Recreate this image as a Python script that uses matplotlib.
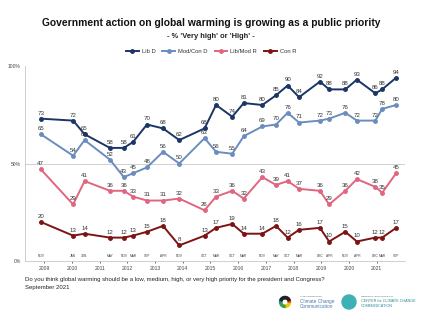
import matplotlib
matplotlib.use("Agg")
import matplotlib.pyplot as plt
import matplotlib.dates as mdates
from matplotlib.patches import Circle, Wedge
from datetime import date

plt.rcParams['font.family'] = ['Liberation Sans', 'DejaVu Sans']

survey_dates = ["2008-11", "2010-01", "2010-06", "2011-05", "2011-11", "2012-03", "2012-09",
                "2013-04", "2013-11", "2014-10", "2015-03", "2015-10", "2016-03", "2016-11",
                "2017-05", "2017-10", "2018-03", "2018-12", "2019-04", "2019-11", "2020-04",
                "2020-12", "2021-03", "2021-09"]
month_labels = ["NOV", "JAN", "JUN", "MAY", "NOV", "MAR", "SEP", "APR", "NOV", "OCT", "MAR", "OCT",
                "MAR", "NOV", "MAY", "OCT", "MAR", "DEC", "APR", "NOV", "APR", "DEC", "MAR", "SEP"]
lib_d = [73, 72, 65, 58, 58, 61, 70, 68, 62, 68, 80, 74, 81, 80, 85, 90, 84, 92, 88, 88, 93, 86, 88, 94]
modcon_d = [65, 54, 62, 52, 43, 45, 48, 56, 50, 63, 56, 55, 64, 69, 70, 76, 71, 72, 73, 76, 72, 72, 78, 80]
libmod_r = [47, 29, 41, 36, 36, 33, 31, 31, 32, 26, 33, 36, 32, 43, 39, 41, 37, 36, 29, 36, 42, 38, 35, 45]
con_r = [20, 13, 14, 12, 12, 13, 15, 18, 8, 13, 17, 19, 14, 14, 18, 12, 16, 17, 10, 15, 10, 12, 12, 17]
series_names = ["Lib D", "Mod/Con D", "Lib/Mod R", "Con R"]
series_colors = ["#1b3567", "#6b8dbd", "#e0667f", "#7d1414"]
years = list(range(2009, 2022))

dates = [date(int(s[:4]), int(s[5:]), 15) for s in survey_dates]

W, H = 422, 330
fig = plt.figure(figsize=(W / 100, H / 100), dpi=100)
ax = fig.add_axes([25 / W, 1 - 261 / H, (405 - 25) / W, (261 - 66) / H])

all_series = [lib_d, modcon_d, libmod_r, con_r]
for name, vals, col in zip(series_names, all_series, series_colors):
    ax.plot(dates, vals, color=col, lw=1.4, marker='o', ms=2.5, label=name, zorder=3)
    for d, v in zip(dates, vals):
        ax.annotate(str(v), (d, v), xytext=(0, 2.2), textcoords='offset points',
                    ha='center', va='bottom', fontsize=4.4, color='#333333', zorder=4)

for d, m in zip(dates, month_labels):
    ax.text(d, 2.6, m, fontsize=2.3, ha='center', va='center', color='#444444')

ax.set_ylim(0, 100)
ax.set_xlim(date(2008, 4, 20), date(2022, 1, 10))
ax.axhline(50, color='#d0d0d0', lw=0.7, zorder=1)
ax.set_yticks([0, 50, 100])
ax.set_yticklabels(["0%", "50%", "100%"])
ax.set_xticks([date(y, 1, 1) for y in years])
ax.set_xticklabels([str(y) for y in years])
ax.tick_params(axis='x', labelsize=3.6, length=1.5, width=0.6, color='#555555', labelcolor='#444444', pad=2)
ax.tick_params(axis='y', labelsize=3.6, length=0, labelcolor='#444444', pad=3)
for s in ['top', 'right']:
    ax.spines[s].set_visible(False)
ax.spines['left'].set_color('#c8c8c8')
ax.spines['left'].set_linewidth(0.6)
ax.spines['bottom'].set_color('#c8c8c8')
ax.spines['bottom'].set_linewidth(0.6)

fig.text(0.5, 1 - 23 / H, "Government action on global warming is growing as a public priority",
         ha='center', va='center', fontsize=7.4, fontweight='bold', color='#111111')
fig.text(0.5, 1 - 37 / H, "- % 'Very high' or 'High' -",
         ha='center', va='center', fontsize=5.4, fontweight='bold', color='#222222')

handles, labels = ax.get_legend_handles_labels()
fig.legend(handles, labels, loc='center', bbox_to_anchor=(0.5, 1 - 51.5 / H), ncol=4, frameon=False,
           fontsize=4.2, handlelength=2.2, columnspacing=1.2, handletextpad=0.5, labelcolor='#333333')

fig.text(25 / W, 1 - 279 / H,
         "Do you think global warming should be a low, medium, high, or very high priority for the president and Congress?",
         ha='left', va='center', fontsize=4.35, color='#222222')
fig.text(25 / W, 1 - 287 / H, "September 2021", ha='left', va='center', fontsize=4.35, color='#222222')

# logos (approximate)
la = fig.add_axes([0, 0, 1, 1], zorder=-1)
la.set_xlim(0, W)
la.set_ylim(H, 0)
la.axis('off')
ring_cols = ['#f2c500', '#3aa04a', '#1f7cc1', '#e03a3a']
for i, c in enumerate(ring_cols):
    la.add_patch(Wedge((285, 302), 5.5, i * 90, (i + 1) * 90, width=2.2, color=c))
la.add_patch(Wedge((285, 302), 5.5, 200, 340, width=2.2, color='#222222'))
la.text(300, 296, "YALE PROGRAM ON", fontsize=1.6, color='#555555', va='center')
la.text(300, 301, "Climate Change", fontsize=3.4, color='#4a7ab0', va='center')
la.text(300, 306, "Communication", fontsize=3.4, color='#4a7ab0', va='center')
la.add_patch(Circle((349, 302), 7, color='#3fb0b5'))
la.text(361, 296, "GEORGE MASON UNIVERSITY", fontsize=1.6, color='#555555', va='center')
la.text(361, 301, "CENTER for CLIMATE CHANGE", fontsize=2.7, color='#2a8a9a', va='center')
la.text(361, 306, "COMMUNICATION", fontsize=2.7, color='#2a8a9a', va='center')

fig.savefig("out.png", dpi=100, facecolor='white')
